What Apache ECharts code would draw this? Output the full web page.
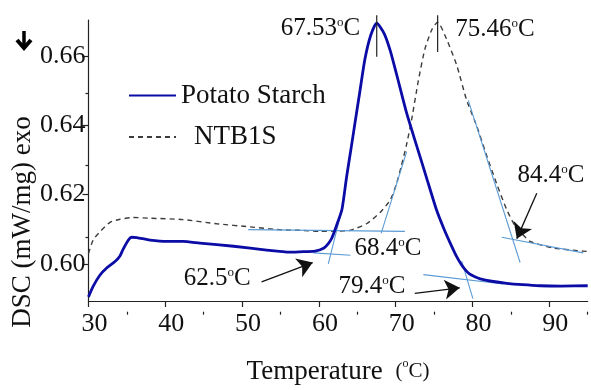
<!DOCTYPE html>
<html>
<head>
<meta charset="utf-8">
<script src="https://cdn.jsdelivr.net/npm/echarts@6/dist/echarts.min.js"></script>
<style>
  html, body { margin: 0; padding: 0; background: #fff; }
  #chart { width: 591px; height: 390px; }
</style>
</head>
<body>
<div id="chart"></div>
<script>
// DSC heat-flow traces (temperature in °C, heat flow in mW/mg, exo down)
const potatoTemp = [30.0, 30.6, 31.5, 32.4, 33.45, 34.1, 34.5, 35.2, 35.6, 36.3, 38.0, 40.2, 42.3, 44.5, 48.9, 53.2, 56.2, 57.5, 59.5, 60.6, 61.2, 61.67, 62.3, 63.0, 63.6, 64.2, 64.7, 65.35, 66.0, 66.75, 67.53, 68.5, 69.3, 70.13, 71.43, 72.7, 74.0, 75.3, 76.3, 77.1, 77.8, 78.5, 79.1, 79.6, 80.3, 81.0, 82.5, 84.45, 86.5, 88.8, 91.5, 95.0];
const potatoDsc  = [0.5905, 0.5935, 0.5968, 0.5989, 0.6007, 0.6023, 0.6042, 0.6069, 0.6077, 0.6076, 0.6069, 0.6065, 0.6065, 0.6060, 0.6051, 0.6040, 0.6034, 0.6035, 0.6037, 0.6045, 0.6058, 0.6074, 0.6111, 0.6157, 0.6250, 0.6335, 0.6407, 0.6500, 0.6592, 0.6660, 0.6695, 0.6665, 0.6615, 0.6546, 0.6435, 0.6343, 0.6250, 0.6157, 0.6100, 0.6060, 0.6027, 0.6000, 0.5982, 0.5971, 0.5963, 0.5957, 0.5950, 0.5944, 0.5940, 0.5937, 0.5936, 0.5937];

const ntbTemp = [30.0, 30.6, 31.5, 32.8, 34.1, 35.8, 38.0, 42.3, 46.7, 51.0, 55.4, 57.5, 60.1, 62.5, 64.05, 66.2, 67.95, 69.3, 70.1, 70.7, 71.4, 72.08, 72.94, 73.8, 74.7, 75.46, 76.64, 77.94, 79.25, 80.55, 81.7, 83.15, 84.45, 85.5, 86.2, 87.5, 90.5, 94.4, 95.0];
const ntbDsc  = [0.6030, 0.6069, 0.6093, 0.6120, 0.6129, 0.6134, 0.6132, 0.6128, 0.6116, 0.6107, 0.6098, 0.6097, 0.6094, 0.6095, 0.6097, 0.6116, 0.6148, 0.6185, 0.6231, 0.6280, 0.6343, 0.6417, 0.6528, 0.6620, 0.6676, 0.6698, 0.6648, 0.6574, 0.6472, 0.6398, 0.6322, 0.6231, 0.6157, 0.6111, 0.6093, 0.6065, 0.6046, 0.6037, 0.6036];

// Onset / endset construction lines: [[t1, dsc1], [t2, dsc2]]
const tangentLines = [
  [[50.8, 0.6099], [71.2, 0.6094]],   // NTB1S baseline before peak
  [[68.1, 0.6088], [71.43, 0.6324]],  // NTB1S leading edge
  [[59.3, 0.6032], [64.1, 0.6025]],   // potato baseline before peak
  [[61.22, 0.6000], [63.2, 0.6175]],  // potato leading edge
  [[80.05, 0.5900], [78.6, 0.6008]],  // potato trailing edge
  [[73.6, 0.5969], [84.0, 0.5942]],   // potato baseline after peak
  [[79.45, 0.6472], [86.2, 0.6004]],  // NTB1S trailing edge
  [[83.8, 0.6077], [94.43, 0.6032]]   // NTB1S baseline after peak
];

// Peak temperatures and the span of their marker ticks
const peakTemps = [67.53, 75.46];
const peakTickSpans = [[0.6598, 0.67175], [0.6612, 0.67175]];

// Temperature labels: text and anchor [t, dsc]
const labelTexts = ['67.53', '75.46', '84.4', '68.4', '79.4', '62.5'];
const labelAnchors = [[60.2, 0.6679], [82.93, 0.6676], [90.22, 0.6254], [69.0, 0.6045], [66.9, 0.5934], [46.76, 0.5959]];

// Pointer arrows: [[fromT, fromDsc], [toT, toDsc]]
const pointerArrows = [
  [[52.54, 0.5948], [59.19, 0.6004]],
  [[72.48, 0.5915], [78.34, 0.5931]],
  [[88.37, 0.6204], [85.77, 0.6073]]
];

// Axis ticks
const xMajorTicks = [30, 40, 50, 60, 70, 80, 90];
const xMinorTicks = [35, 45, 55, 65, 75, 85, 95];
const yMajorTicks = [0.60, 0.62, 0.64, 0.66];
const yMinorTicks = [0.61, 0.63, 0.65];

const X_MIN = 30, X_MAX = 95, Y_MIN = 0.5893, Y_MAX = 0.6704;
const SERIF = '"Liberation Serif", "Times New Roman", serif';
const INK = '#111';
const TANGENT = '#5b9bd5';

const zip = (a, b) => a.map((v, i) => [v, b[i]]);
const gridBox = { left: 88.5, right: 3.3, top: 20, bottom: 78.3 };

const series = [];

series.push({
  name: 'NTB1S', type: 'line', data: zip(ntbTemp, ntbDsc),
  symbol: 'none', smooth: 0.2, z: 2,
  lineStyle: { color: '#3c3c3c', width: 1.4, type: [5, 4] },
  itemStyle: { color: '#3c3c3c' }
});

tangentLines.forEach(seg => series.push({
  type: 'line', data: seg, symbol: 'none', z: 3, silent: true,
  lineStyle: { color: TANGENT, width: 1.1 }
}));

series.push({
  name: 'Potato Starch', type: 'line', data: zip(potatoTemp, potatoDsc),
  symbol: 'none', smooth: 0.2, z: 4,
  lineStyle: { color: '#0b0ba6', width: 2.8, join: 'round' },
  itemStyle: { color: '#0b0ba6' }
});

peakTemps.forEach((t, i) => series.push({
  type: 'line', data: [[t, peakTickSpans[i][0]], [t, peakTickSpans[i][1]]],
  symbol: 'none', clip: false, z: 5, silent: true,
  lineStyle: { color: '#222', width: 1.2 }
}));

series.push({
  type: 'scatter', symbolSize: 0, z: 6, silent: true,
  itemStyle: { opacity: 1 },
  data: labelAnchors.map((p, i) => ({ value: p, text: labelTexts[i] })),
  label: {
    show: true, position: 'inside', color: INK,
    formatter: p => `{n|${p.data.text}}{o|o}{n|C}`,
    rich: {
      n: { fontFamily: SERIF, fontSize: 25, color: INK },
      o: { fontFamily: SERIF, fontSize: 13, color: INK, verticalAlign: 'top' }
    }
  },
  markLine: {
    silent: true, symbol: ['none', 'arrow'], symbolSize: 15,
    label: { show: false },
    lineStyle: { color: '#111', width: 1.3, type: 'solid', opacity: 1 },
    itemStyle: { color: '#111' },
    data: pointerArrows.map(a => [{ coord: a[0] }, { coord: a[1] }])
  }
});

const legendBase = {
  left: 128, padding: 0, itemWidth: 47, itemHeight: 14, selectedMode: false,
  itemStyle: { opacity: 0 }
};

const option = {
  backgroundColor: '#fff',
  animation: false,
  grid: [
    Object.assign({ containLabel: false }, gridBox),
    Object.assign({ containLabel: false }, gridBox)
  ],
  legend: [
    Object.assign({}, legendBase, {
      data: ['Potato Starch'], top: 82,
      textStyle: { fontFamily: SERIF, fontSize: 27, color: INK }
    }),
    Object.assign({}, legendBase, {
      data: ['NTB1S'], top: 123.5,
      textStyle: { fontFamily: SERIF, fontSize: 27, color: INK, padding: [0, 0, 0, 13] }
    })
  ],
  xAxis: [
    {
      type: 'value', gridIndex: 0, min: X_MIN, max: X_MAX,
      axisLine: { show: true, lineStyle: { color: '#222', width: 1.2 } },
      axisTick: { show: true, customValues: xMajorTicks, length: 6, lineStyle: { color: '#222', width: 1.2 } },
      axisLabel: {
        customValues: xMajorTicks, margin: 10, padding: [0, 0, 0, 12],
        fontFamily: SERIF, fontSize: 26, color: INK
      },
      splitLine: { show: false },
      name: '{t|Temperature}{g|}{u|(}{o|o}{u|C)}',
      nameLocation: 'middle', nameGap: 57,
      nameTextStyle: {
        rich: {
          t: { fontFamily: SERIF, fontSize: 27, color: INK },
          g: { width: 13 },
          u: { fontFamily: SERIF, fontSize: 21, color: INK },
          o: { fontFamily: SERIF, fontSize: 12, color: INK, verticalAlign: 'top' }
        }
      }
    },
    {
      type: 'value', gridIndex: 1, min: X_MIN, max: X_MAX,
      axisLine: { show: false },
      axisTick: { show: true, customValues: xMinorTicks, length: 3, lineStyle: { color: '#222', width: 1.2 } },
      axisLabel: { show: false },
      splitLine: { show: false }
    }
  ],
  yAxis: [
    {
      type: 'value', gridIndex: 0, min: Y_MIN, max: Y_MAX,
      axisLine: { show: true, lineStyle: { color: '#222', width: 1.2 } },
      axisTick: { show: true, customValues: yMajorTicks, length: 6, lineStyle: { color: '#222', width: 1.2 } },
      axisLabel: {
        customValues: yMajorTicks, margin: 3,
        formatter: v => v.toFixed(2),
        fontFamily: SERIF, fontSize: 26, color: INK
      },
      splitLine: { show: false }
    },
    {
      type: 'value', gridIndex: 1, min: Y_MIN, max: Y_MAX,
      axisLine: { show: false },
      axisTick: { show: true, customValues: yMinorTicks, length: 3, lineStyle: { color: '#222', width: 1.2 } },
      axisLabel: { show: false },
      splitLine: { show: false }
    }
  ],
  graphic: [
    {
      type: 'text', x: 23, y: 222, rotation: Math.PI / 2,
      style: {
        text: 'DSC (mW/mg) exo', fontFamily: SERIF, fontSize: 27,
        fill: INK, align: 'center', verticalAlign: 'middle'
      }
    },
    {
      // exotherm direction arrow
      type: 'group', x: 24, y: 31,
      children: [
        { type: 'line', shape: { x1: 0, y1: 0, x2: 0, y2: 16 }, style: { stroke: '#000', lineWidth: 3.5 } },
        { type: 'polyline', shape: { points: [[-7, 9], [0, 17], [7, 9]] }, style: { stroke: '#000', lineWidth: 4, fill: null, lineJoin: 'miter' } }
      ]
    }
  ],
  series: series
};

const chart = echarts.init(document.getElementById('chart'));
chart.setOption(option);
</script>
</body>
</html>
